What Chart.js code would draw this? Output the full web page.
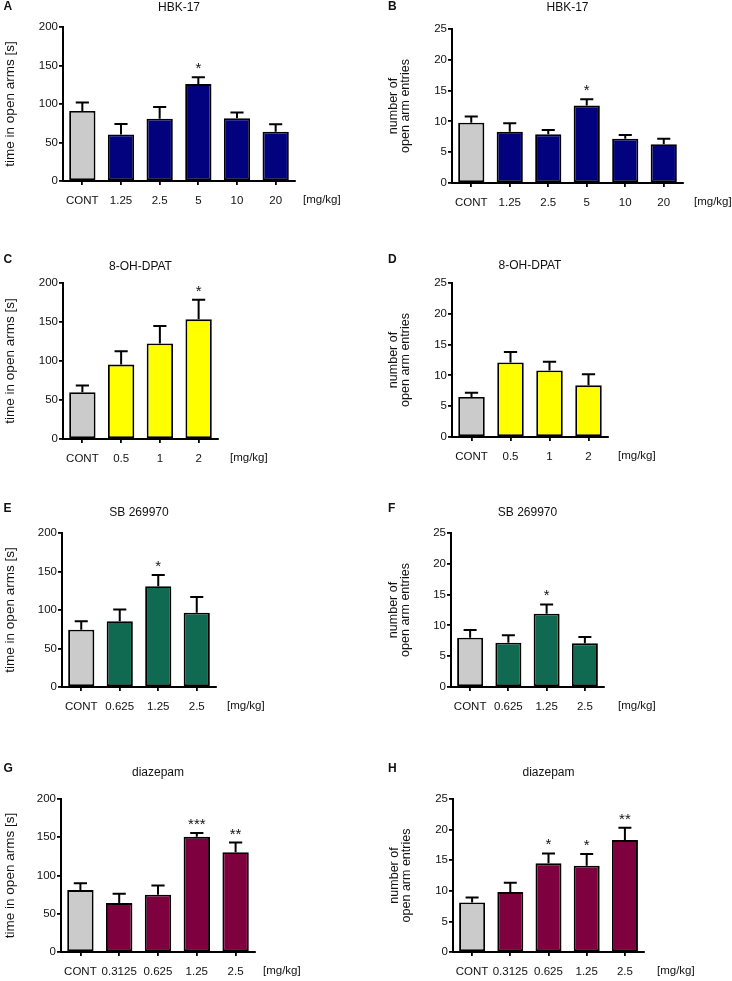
<!DOCTYPE html>
<html>
<head>
<meta charset="utf-8">
<title>open arms - EPM</title>
<script src="https://cdn.jsdelivr.net/npm/chart.js@4.4.1/dist/chart.umd.min.js"></script>
<style>
body{margin:0;background:#fff;}
#page{position:relative;width:732px;height:981px;overflow:hidden;}
#page canvas{position:absolute;}
</style>
</head>
<body>
<div id="page"></div>
<script>
// ---- data ----
// HBK-17 (A, B)
const hbkDoses = ['CONT', '1.25', '2.5', '5', '10', '20'];
const hbkTime = [91, 60.5, 81, 126, 81.5, 64];
const hbkTimeSem = [10.8, 13.5, 15, 8.7, 7.5, 9.6];
const hbkTimeStars = ['', '', '', '*', '', ''];
const hbkEntries = [9.8, 8.3, 7.9, 12.6, 7.2, 6.3];
const hbkEntriesSem = [1.0, 1.4, 0.7, 1.0, 0.6, 0.9];
const hbkEntriesStars = ['', '', '', '*', '', ''];

// 8-OH-DPAT (C, D)
const dpatDoses = ['CONT', '0.5', '1', '2'];
const dpatTime = [60, 95.5, 122.5, 153.5];
const dpatTimeSem = [8.5, 17, 22.5, 25];
const dpatTimeStars = ['', '', '', '*'];
const dpatEntries = [6.5, 12.1, 10.8, 8.4];
const dpatEntriesSem = [0.7, 1.7, 1.4, 1.8];
const dpatEntriesStars = ['', '', '', ''];

// SB 269970 (E, F)
const sbDoses = ['CONT', '0.625', '1.25', '2.5'];
const sbTime = [74.5, 85.5, 131, 96.5];
const sbTimeSem = [11, 15, 14.5, 20.5];
const sbTimeStars = ['', '', '*', ''];
const sbEntries = [8.0, 7.2, 11.9, 7.1];
const sbEntriesSem = [1.25, 1.2, 1.5, 1.0];
const sbEntriesStars = ['', '', '*', ''];

// diazepam (G, H)
const diazDoses = ['CONT', '0.3125', '0.625', '1.25', '2.5'];
const diazTime = [81, 64, 75, 150.5, 130.5];
const diazTimeSem = [9, 12, 12, 5, 12.5];
const diazTimeStars = ['', '', '', '***', '**'];
const diazEntries = [8.1, 9.8, 14.5, 14.1, 18.3];
const diazEntriesSem = [0.8, 1.5, 1.6, 1.9, 2.0];
const diazEntriesStars = ['', '', '*', '*', '**'];

// axis ticks + labels
const timeTicks = [0, 50, 100, 150, 200];
const entryTicks = [0, 5, 10, 15, 20, 25];
const timeTitle = 'time in open arms [s]';
const entryTitle = ['number of', 'open arm entries'];
const doseUnit = '[mg/kg]';

// colours
const contColor = '#cbcbcb';
const hbkColor = '#02027e';
const dpatColor = '#ffff00';
const sbColor = '#106a52';
const diazColor = '#7e003e';

const fontFamily = '"Liberation Sans", Arial, Helvetica, sans-serif';
const inkColor = '#111';

// page boxes (px in the page): canvas column/top/height, chart area [left,right,top,bottom]
const boxes = {
    A: {col: 0, top: 0, h: 240, area: [63, 295, 27, 181], titleY: 7, letterY: 7, yTitleX: 10, unitGap: 8},
    B: {col: 366, top: 0, h: 240, area: [452, 683, 29, 183], titleY: 7, letterY: 7, yTitleX: 394, unitGap: 11},
    C: {col: 0, top: 240, h: 240, area: [63, 218, 283, 439], titleY: 267, letterY: 260, yTitleX: 10, unitGap: 12},
    D: {col: 366, top: 240, h: 240, area: [452, 608, 283, 437], titleY: 266, letterY: 260, yTitleX: 394, unitGap: 10},
    E: {col: 0, top: 480, h: 250, area: [62, 216, 533, 687], titleY: 513, letterY: 509, yTitleX: 10, unitGap: 11},
    F: {col: 366, top: 480, h: 250, area: [451, 604, 533, 687], titleY: 513, letterY: 509, yTitleX: 394, unitGap: 14},
    G: {col: 0, top: 730, h: 251, area: [61, 255, 799, 952], titleY: 773, letterY: 769, yTitleX: 10, unitGap: 8},
    H: {col: 366, top: 730, h: 251, area: [453, 644, 799, 952], titleY: 773, letterY: 769, yTitleX: 395, unitGap: 13}
};

// error bars, stars, panel letter and unit text
const errorBars = {
    id: 'errorBars',
    afterDatasetsDraw(chart, args, opts) {
        const ctx = chart.ctx;
        const yScale = chart.scales.y;
        const values = chart.data.datasets[0].data;
        ctx.save();
        ctx.strokeStyle = '#000';
        ctx.lineWidth = 2;
        ctx.fillStyle = inkColor;
        ctx.textAlign = 'center';
        ctx.textBaseline = 'alphabetic';
        ctx.font = '15px ' + fontFamily;
        chart.getDatasetMeta(0).data.forEach((bar, i) => {
            const top = yScale.getPixelForValue(values[i] + opts.sem[i]);
            const cap = bar.width / 4;
            ctx.beginPath();
            ctx.moveTo(bar.x, bar.y);
            ctx.lineTo(bar.x, top);
            ctx.moveTo(bar.x - cap, top);
            ctx.lineTo(bar.x + cap, top);
            ctx.stroke();
            if (opts.stars[i]) {
                ctx.fillText(opts.stars[i], bar.x, top - 4);
            }
        });
        ctx.restore();
    },
    afterDraw(chart, args, opts) {
        const ctx = chart.ctx;
        const area = chart.chartArea;
        ctx.save();
        ctx.fillStyle = inkColor;
        ctx.font = 'bold 12px ' + fontFamily;
        ctx.textAlign = 'left';
        ctx.textBaseline = 'middle';
        ctx.fillText(opts.letter, opts.letterX, opts.letterY);
        ctx.font = '11.5px ' + fontFamily;
        ctx.textBaseline = 'top';
        ctx.fillText(doseUnit, area.right + opts.unitGap, area.bottom + 13);
        ctx.restore();
    }
};

const panels = [
    {id: 'A', title: 'HBK-17', doses: hbkDoses, values: hbkTime, sem: hbkTimeSem, stars: hbkTimeStars, ticks: timeTicks, yTitle: timeTitle, color: hbkColor},
    {id: 'B', title: 'HBK-17', doses: hbkDoses, values: hbkEntries, sem: hbkEntriesSem, stars: hbkEntriesStars, ticks: entryTicks, yTitle: entryTitle, color: hbkColor},
    {id: 'C', title: '8-OH-DPAT', doses: dpatDoses, values: dpatTime, sem: dpatTimeSem, stars: dpatTimeStars, ticks: timeTicks, yTitle: timeTitle, color: dpatColor},
    {id: 'D', title: '8-OH-DPAT', doses: dpatDoses, values: dpatEntries, sem: dpatEntriesSem, stars: dpatEntriesStars, ticks: entryTicks, yTitle: entryTitle, color: dpatColor},
    {id: 'E', title: 'SB 269970', doses: sbDoses, values: sbTime, sem: sbTimeSem, stars: sbTimeStars, ticks: timeTicks, yTitle: timeTitle, color: sbColor},
    {id: 'F', title: 'SB 269970', doses: sbDoses, values: sbEntries, sem: sbEntriesSem, stars: sbEntriesStars, ticks: entryTicks, yTitle: entryTitle, color: sbColor},
    {id: 'G', title: 'diazepam', doses: diazDoses, values: diazTime, sem: diazTimeSem, stars: diazTimeStars, ticks: timeTicks, yTitle: timeTitle, color: diazColor},
    {id: 'H', title: 'diazepam', doses: diazDoses, values: diazEntries, sem: diazEntriesSem, stars: diazEntriesStars, ticks: entryTicks, yTitle: entryTitle, color: diazColor}
];

window.addEventListener('load', loadUI);

function loadUI() {
    Chart.defaults.font.family = fontFamily;
    Chart.defaults.color = inkColor;
    panels.forEach(drawPanel);
}

function drawPanel(p) {
    const box = boxes[p.id];
    const canvas = document.createElement('canvas');
    canvas.width = 366;
    canvas.height = box.h;
    canvas.style.left = box.col + 'px';
    canvas.style.top = box.top + 'px';
    document.getElementById('page').appendChild(canvas);

    // work the paddings out so the plot area lands where it is in the figure
    const singleLine = !Array.isArray(p.yTitle);
    const yTitleSize = singleLine ? 13.5 : 12.5;
    const yTitleLine = 0.96;
    const titleHalf = 7.2;
    const yTitleHalf = yTitleSize * yTitleLine / 2;
    const xAxisHeight = 26;
    const padTop = Math.max(box.titleY - titleHalf - box.top, 0);
    const titleGap = box.area[2] - box.top - padTop - 2 * titleHalf;
    const yLeft = box.yTitleX - yTitleHalf;
    const yWidth = box.area[0] - yLeft;

    const fills = p.values.map((v, i) => i === 0 ? contColor : p.color);

    new Chart(canvas, {
        type: 'bar',
        data: {
            labels: p.doses,
            datasets: [{
                data: p.values,
                backgroundColor: fills,
                borderColor: '#000',
                borderWidth: 1.9,
                borderSkipped: false,
                barPercentage: 0.68,
                categoryPercentage: 1
            }]
        },
        options: {
            responsive: false,
            animation: false,
            events: [],
            layout: {
                padding: {
                    top: padTop,
                    left: yLeft - box.col,
                    right: box.col + 366 - box.area[1],
                    bottom: box.top + box.h - box.area[3] - xAxisHeight
                }
            },
            plugins: {
                legend: {display: false},
                tooltip: {enabled: false},
                title: {
                    display: true,
                    text: p.title,
                    fullSize: false,
                    color: inkColor,
                    font: {size: 12, weight: 'normal', lineHeight: 1.2},
                    padding: {top: 0, bottom: titleGap}
                },
                errorBars: {
                    sem: p.sem,
                    stars: p.stars,
                    letter: p.id,
                    letterX: box.col === 0 ? 3.5 : 22,
                    letterY: box.letterY - box.top,
                    unitGap: box.unitGap
                }
            },
            scales: {
                x: {
                    offset: true,
                    border: {display: true, color: '#000', width: 2},
                    grid: {display: true, offset: false, drawOnChartArea: false, drawTicks: true, tickLength: 4, color: '#000', lineWidth: 1.8},
                    ticks: {font: {size: 11.5}, padding: 9, autoSkip: false, maxRotation: 0, color: inkColor},
                    afterFit: (scale) => {
                        scale.height = xAxisHeight;
                        scale.paddingLeft = 0;
                        scale.paddingRight = 0;
                    }
                },
                y: {
                    min: p.ticks[0],
                    max: p.ticks[p.ticks.length - 1],
                    border: {display: true, color: '#000', width: 2},
                    grid: {display: true, drawOnChartArea: false, drawTicks: true, tickLength: 4, color: '#000', lineWidth: 1.8},
                    ticks: {stepSize: p.ticks[1] - p.ticks[0], font: {size: 11.5}, padding: 1, color: inkColor},
                    title: {
                        display: true,
                        text: p.yTitle,
                        color: inkColor,
                        font: {size: yTitleSize, lineHeight: yTitleLine},
                        padding: 0
                    },
                    afterFit: (scale) => {
                        scale.width = yWidth;
                        scale.paddingTop = 0;
                        scale.paddingBottom = 0;
                    }
                }
            }
        },
        plugins: [errorBars]
    });
}
</script>
</body>
</html>
